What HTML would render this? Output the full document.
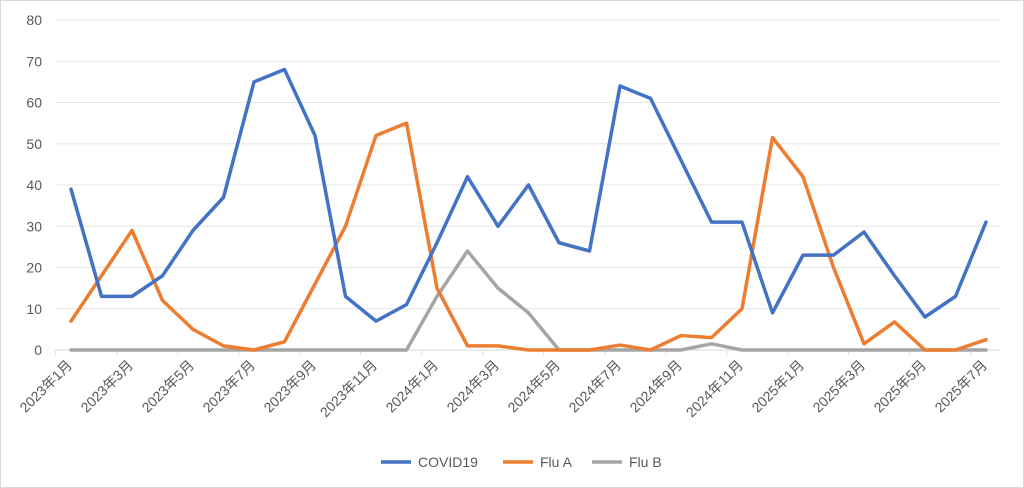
<!DOCTYPE html>
<html><head><meta charset="utf-8"><style>
body{margin:0;background:#fff;}
svg{display:block;font-family:"Liberation Sans","Noto Sans CJK JP",sans-serif;}
</style></head><body>
<svg id="chart" width="1024" height="488"></svg>
<script>
const months=["2023年1月","2023年2月","2023年3月","2023年4月","2023年5月","2023年6月","2023年7月","2023年8月","2023年9月","2023年10月","2023年11月","2023年12月","2024年1月","2024年2月","2024年3月","2024年4月","2024年5月","2024年6月","2024年7月","2024年8月","2024年9月","2024年10月","2024年11月","2024年12月","2025年1月","2025年2月","2025年3月","2025年4月","2025年5月","2025年6月","2025年7月"];
const covid=[39,13,13,18,29,37,65,68,52,13,7,11,26,42,30,40,26,24,64,61,46,31,31,9,23,23,28.6,18,8,13,31];
const fluA=[7,18,29,12,5,1,0,2,16,30,52,55,15,1,1,0,0,0,1.2,0,3.5,3,10,51.5,42,20,1.5,6.8,0,0,2.5];
const fluB=[0,0,0,0,0,0,0,0,0,0,0,0,13,24,15,9,0,0,0,0,0,1.5,0,0,0,0,0,0,0,0,0];
const yTicks=[0,10,20,30,40,50,60,70,80];
const seriesNames=["COVID19","Flu A","Flu B"];
const colors=["#4472C4","#ED7D31","#A5A5A5"];
const NS="http://www.w3.org/2000/svg";
const svg=document.getElementById('chart');
const x0=71,x1=986,yb=350,yt=20;
const step=(x1-x0)/(months.length-1);
const X=i=>x0+step*i;
const Y=v=>yb-(yb-yt)*v/80;
function mk(t,a){const e=document.createElementNS(NS,t);for(const k in a)e.setAttribute(k,a[k]);svg.appendChild(e);return e;}
const border=mk('rect',{x:0.5,y:0.5,width:1023,height:487,fill:'none',stroke:'#d9d9d9','stroke-width':1});


yTicks.forEach(v=>{
  const l=mk('line',{x1:56,x2:1001,y1:Y(v),y2:Y(v),stroke:v===0?'#d9d9d9':'#e6e6e6','stroke-width':1});
  
  
  const t=mk('text',{x:42,y:Y(v)+5,'text-anchor':'end','font-size':14,fill:'#595959'});
  t.textContent=v;
  
  
});
months.forEach((m,i)=>{
  if(i%2)return;
  const tk=mk('line',{x1:X(i)-step/2,x2:X(i)-step/2,y1:yb,y2:yb+5,stroke:'#d9d9d9','stroke-width':1});
  
  
  const t=mk('text',{x:X(i)+2,y:366,'text-anchor':'end','font-size':14,fill:'#595959',transform:`rotate(-45 ${X(i)+2} 366)`});
  t.textContent=m;
  
  
});
[fluB,fluA,covid].forEach((s,j)=>{
  const k=2-j;
  const p=mk('polyline',{points:s.map((v,i)=>X(i)+','+Y(v)).join(' '),fill:'none',stroke:colors[k],'stroke-width':3.5,'stroke-linejoin':'round','stroke-linecap':'round'});
  
  
});
const lx=[381,503,592];
seriesNames.forEach((n,k)=>{
  const l=mk('line',{x1:lx[k],x2:lx[k]+30,y1:462,y2:462,stroke:colors[k],'stroke-width':3.5});
  
  
  const t=mk('text',{x:lx[k]+37,y:467,'font-size':14,fill:'#595959'});
  t.textContent=n;
  
  
});
</script>
</body></html>
